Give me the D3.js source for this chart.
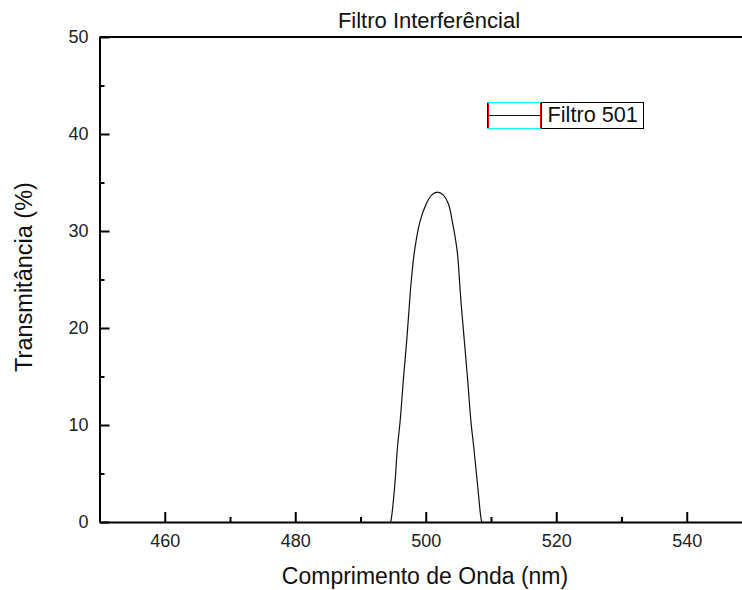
<!DOCTYPE html>
<html><head><meta charset="utf-8">
<script src="https://cdn.jsdelivr.net/npm/d3@7"></script>
<style>body{margin:0;background:#fff}svg{display:block}text{font-family:"Liberation Sans",Arial,sans-serif}</style>
</head><body>
<script>
const wavelength = [494.63, 494.78, 495.29, 495.64, 496.10, 496.56, 497.08, 497.48, 497.72, 498.25, 499.12, 500.15, 500.9, 501.77, 502.7, 503.46, 504.07, 504.84, 505.22, 505.45, 505.91, 506.43, 506.92, 507.39, 507.90, 508.42, 508.57];
const transmittance = [0, 0.6, 4.1, 7.5, 10.6, 14.6, 18.7, 22.3, 24.4, 27.8, 31.0, 32.9, 33.7, 34.0, 33.7, 32.8, 31.0, 27.8, 24.4, 22.3, 18.7, 14.6, 10.4, 7.5, 4.1, 0.6, 0];
const xMajorTicks = [460, 480, 500, 520, 540];
const xMinorTicks = [470, 490, 510, 530, 550];
const yMajorTicks = [0, 10, 20, 30, 40, 50];
const yMinorTicks = [5, 15, 25, 35, 45];
const seriesName = "Filtro 501";
const chartTitle = "Filtro Interferêncial";
const xTitle = "Comprimento de Onda (nm)";
const yTitle = "Transmitância (%)";

const W = 742, H = 590;
const svg = d3.select("body").append("svg").attr("width", W).attr("height", H);
svg.append("rect").attr("width", W).attr("height", H).attr("fill", "#fff");

const x = d3.scaleLinear().domain([450, 550]).range([99.5, 752]);
const y = d3.scaleLinear().domain([0, 50]).range([522, 37]);

// curve
const line = d3.line().x((d, i) => x(wavelength[i])).y((d, i) => y(transmittance[i])).curve(d3.curveCatmullRom.alpha(0.5));
svg.append("path").datum(wavelength).attr("d", line).attr("fill", "none").attr("stroke", "#111").attr("stroke-width", 1.2);

// top border
svg.append("line").attr("x1", x(450)).attr("x2", x(550)).attr("y1", y(50)).attr("y2", y(50)).attr("stroke", "#000").attr("stroke-width", 2);

function styleAxis(g) {
  g.selectAll("path.domain").attr("stroke", "#000").attr("stroke-width", 2);
  g.selectAll(".tick line").attr("stroke", "#000").attr("stroke-width", 2);
  g.selectAll("text").attr("fill", "#222").style("font-size", "18px").attr("font-family", null);
}

// x axis
const gx = svg.append("g").attr("transform", `translate(0,${y(0)})`)
  .call(d3.axisBottom(x).tickValues(xMajorTicks).tickSize(-10).tickSizeOuter(0).tickPadding(12).tickFormat(d3.format("d")));
styleAxis(gx);
const gxm = svg.append("g").attr("transform", `translate(0,${y(0)})`)
  .call(d3.axisBottom(x).tickValues(xMinorTicks).tickSize(-5).tickSizeOuter(0).tickFormat(""));
styleAxis(gxm);
gxm.select("path.domain").remove();

// y axis
const gy = svg.append("g").attr("transform", `translate(${x(450)},0)`)
  .call(d3.axisLeft(y).tickValues(yMajorTicks).tickSize(-10).tickSizeOuter(0).tickPadding(11).tickFormat(d3.format("d")));
styleAxis(gy);
const gym = svg.append("g").attr("transform", `translate(${x(450)},0)`)
  .call(d3.axisLeft(y).tickValues(yMinorTicks).tickSize(-5).tickSizeOuter(0).tickFormat(""));
styleAxis(gym);
gym.select("path.domain").remove();

// titles
svg.append("text").attr("x", 429).attr("y", 28).attr("text-anchor", "middle").style("font-size", "22px").attr("fill", "#111").text(chartTitle);
svg.append("text").attr("x", 425).attr("y", 584).attr("text-anchor", "middle").style("font-size", "23px").attr("fill", "#111").text(xTitle);
svg.append("text").attr("transform", "translate(32,277) rotate(-90)").attr("text-anchor", "middle").style("font-size", "23.5px").attr("fill", "#111").text(yTitle);

// legend
const lg = svg.append("g");
lg.append("rect").attr("x", 487.5).attr("y", 102.5).attr("width", 53).attr("height", 26).attr("fill", "#fff").attr("stroke", "#00ffff").attr("stroke-width", 1);
lg.append("line").attr("x1", 488).attr("x2", 540).attr("y1", 115.5).attr("y2", 115.5).attr("stroke", "#111").attr("stroke-width", 1.2);
lg.append("line").attr("x1", 487.5).attr("x2", 487.5).attr("y1", 103).attr("y2", 128).attr("stroke", "#400").attr("stroke-width", 1);
lg.append("line").attr("x1", 488.5).attr("x2", 488.5).attr("y1", 103).attr("y2", 128).attr("stroke", "#e00").attr("stroke-width", 1);
lg.append("line").attr("x1", 540.5).attr("x2", 540.5).attr("y1", 103).attr("y2", 128).attr("stroke", "#e00").attr("stroke-width", 1);
lg.append("rect").attr("x", 541.5).attr("y", 102.5).attr("width", 102).attr("height", 26).attr("fill", "none").attr("stroke", "#000").attr("stroke-width", 1);
lg.append("text").attr("x", 547.5).attr("y", 122).style("font-size", "21.7px").attr("fill", "#111").text(seriesName);
</script>
</body></html>
